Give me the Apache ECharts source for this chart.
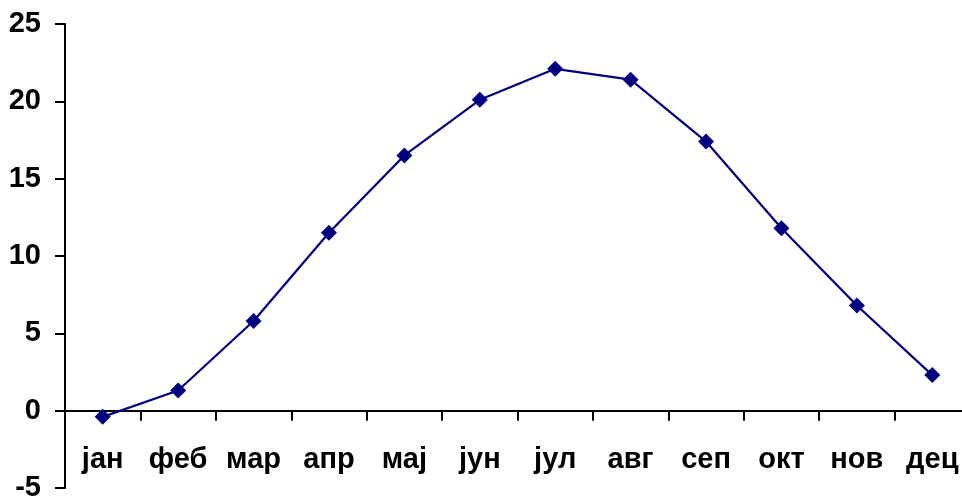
<!DOCTYPE html>
<html>
<head>
<meta charset="utf-8">
<script src="https://cdn.jsdelivr.net/npm/echarts@6/dist/echarts.min.js"></script>
<style>html,body{margin:0;padding:0;background:#fff;}#c{width:962px;height:496px;}</style>
</head>
<body>
<div id="c"></div>
<script>
const categories = ['јан','феб','мар','апр','мај','јун','јул','авг','сеп','окт','нов','дец'];
const temperatures = [-0.4, 1.3, 5.8, 11.5, 16.5, 20.1, 22.1, 21.4, 17.4, 11.8, 6.8, 2.3];

const chart = echarts.init(document.getElementById('c'), null, {renderer: 'canvas'});
chart.setOption({
  animation: false,
  backgroundColor: '#ffffff',
  grid: {left: 65, top: 24, width: 905, height: 464, containLabel: false, outerBoundsMode: 'none'},
  xAxis: {
    type: 'category',
    data: categories,
    boundaryGap: true,
    axisLine: {onZero: true, lineStyle: {color: '#000', width: 2}},
    axisTick: {show: true, inside: false, length: 10, interval: 0, lineStyle: {color: '#000', width: 2}},
    axisLabel: {interval: 0, margin: -43, color: '#000', fontSize: 29, fontWeight: 'bold', fontFamily: 'Liberation Sans'},
    splitLine: {show: false}
  },
  yAxis: {
    type: 'value',
    min: -5, max: 25, interval: 5,
    axisLine: {show: true, lineStyle: {color: '#000', width: 2}},
    axisTick: {show: true, length: 10, lineStyle: {color: '#000', width: 2}},
    axisLabel: {margin: 24, color: '#000', fontSize: 29, fontWeight: 'bold', fontFamily: 'Liberation Sans'},
    splitLine: {show: false}
  },
  series: [{
    type: 'line',
    data: temperatures,
    symbol: 'diamond',
    symbolSize: 16,
    lineStyle: {color: '#000080', width: 2.2},
    itemStyle: {color: '#000080'}
  }]
});
</script>
</body>
</html>
